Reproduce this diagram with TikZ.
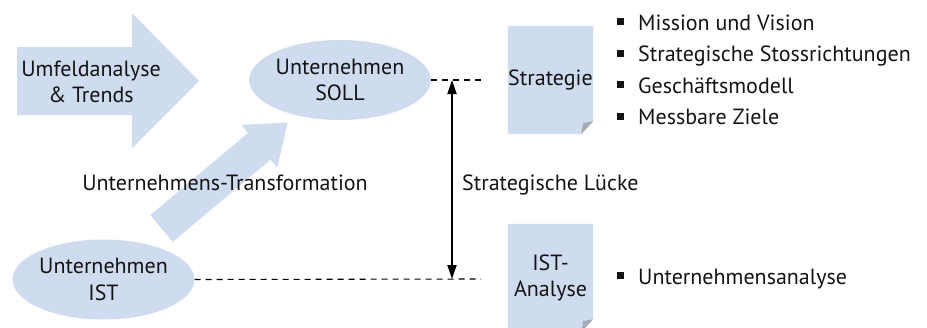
\documentclass[tikz,border=0pt]{standalone}
\usepackage{fontspec}
\setmainfont{PT Sans}
\usetikzlibrary{shapes.geometric,arrows.meta,backgrounds}
\definecolor{bluefill}{HTML}{CFDBEE}
\definecolor{foldgray}{HTML}{A5ABB6}
\definecolor{txt}{HTML}{141414}
\newcommand{\sqbul}{\rule[5pt]{7pt}{7pt}\hspace{14pt}}
\tikzset{
  every node/.style={text=txt, font=\fontsize{22}{26.5}\selectfont},
  oval/.style={ellipse, fill=bluefill, minimum width=172pt, minimum height=80pt, inner sep=0pt, align=center},
  docbox/.style={rectangle, minimum width=85pt, minimum height=108pt, inner sep=0pt, align=center},
  bigarrow/.style={fill=bluefill},
  gapline/.style={dash pattern=on 6pt off 5pt, line width=1.1pt, black},
  gaparrow/.style={line width=1.8pt, black, {Triangle[length=14pt,width=9pt]}-{Triangle[length=14pt,width=9pt]}},
  item/.style={anchor=base west, inner sep=0pt},
  label/.style={inner sep=0pt, align=center}
}
\begin{document}
\begin{tikzpicture}[x=1pt,y=-1pt]
\useasboundingbox (0,0) rectangle (927,327);
\clip (0,0) rectangle (927,327);
% big right arrow
\fill[bigarrow] (17,47) -- (132,47) -- (132,13) -- (199,81) -- (132,148) -- (132,115) -- (17,115) -- cycle;
\node[label] (umfeld) at (91,82) {Umfeldanalyse\\\& Trends};
% transformation arrow
\fill[bigarrow] (172.7,241.9) -- (270.5,159.7) -- (277.3,167.7) -- (287.6,122.6) -- (241.3,124.9) -- (248.1,132.9) -- (150.3,215.1) -- cycle;
\node[label] (transf) at (225,183) {Unternehmens-Transformation};
% ellipses
\node[oval] (soll) at (340,80) {Unternehmen\\SOLL};
\node[oval] (ist) at (103.5,279.5) {Unternehmen\\IST};
% documents
\node[docbox] (strat) at (550.5,80) {Strategie};
\node[docbox] (istan) at (550.5,278) {IST-\\Analyse};
\begin{scope}[on background layer]
\fill[bluefill] (strat.north west) -- (strat.north east) -- ([yshift=13pt]strat.south east) -- ([xshift=-12pt]strat.south east) -- (strat.south west) -- cycle;
\fill[foldgray] ([yshift=13pt]strat.south east) -- ([xshift=-12pt]strat.south east) -- ([xshift=-10pt,yshift=11pt]strat.south east) -- cycle;
\fill[bluefill] (istan.north west) -- (istan.north east) -- ([yshift=13pt]istan.south east) -- ([xshift=-12pt]istan.south east) -- (istan.south west) -- cycle;
\fill[foldgray] ([yshift=13pt]istan.south east) -- ([xshift=-12pt]istan.south east) -- ([xshift=-10pt,yshift=11pt]istan.south east) -- cycle;
\end{scope}
% gap lines
\coordinate (t1) at (481,80);
\coordinate (t2) at (481,279);
\coordinate (ga) at (452,80);
\coordinate (gb) at (452,279);
\draw[gapline] (soll.east) -- (t1);
\draw[gapline] (ist.east) -- (t2);
\draw[gaparrow] (ga) -- (gb);
\node[label, anchor=west] (luecke) at (462,185) {Strategische Lücke};
% bullet items
\node[item] (i1) at (617,30) {\sqbul Mission und Vision};
\node[item] (i2) at (617,61.5) {\sqbul Strategische Stossrichtungen};
\node[item] (i3) at (617,93) {\sqbul Geschäftsmodell};
\node[item] (i4) at (617,124.5) {\sqbul Messbare Ziele};
\node[item] (i5) at (617,284) {\sqbul Unternehmensanalyse};
\end{tikzpicture}
\end{document}
